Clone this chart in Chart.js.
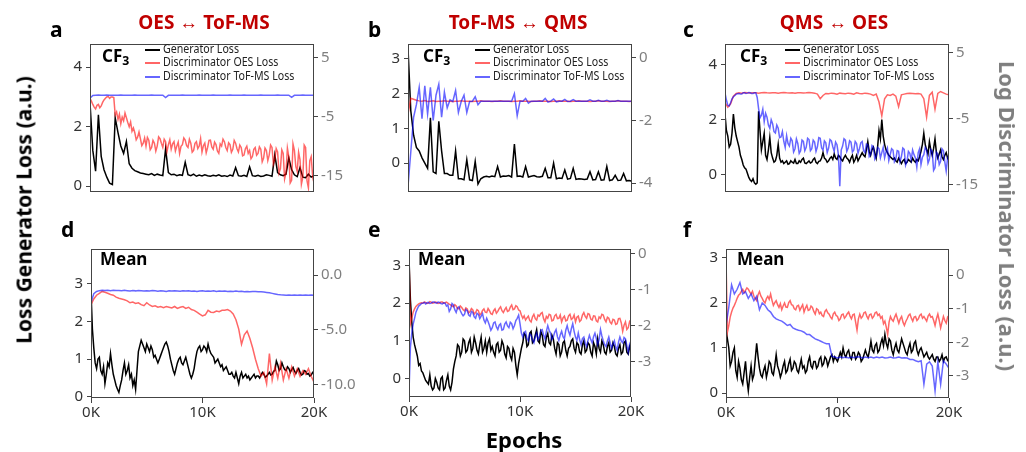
<!DOCTYPE html>
<html><head><meta charset="utf-8">
<script src="https://cdn.jsdelivr.net/npm/chart.js@4.4.1/dist/chart.umd.min.js"></script>
<style>
html,body{margin:0;padding:0;}
body{width:1026px;height:452px;background:#fff;position:relative;overflow:hidden;font-family:'Noto Sans',sans-serif;}
canvas{position:absolute;}
.t{position:absolute;white-space:nowrap;line-height:1;}
.sw{position:absolute;height:2px;width:15px;}
</style></head><body>
<script>
// ---------------- DATA ----------------
const epochs = [0,250,500,750,1000,1250,1500,1750,2000,2250,2500,2750,3000,3250,3500,3750,4000,4250,4500,4750,5000,5250,5500,5750,6000,6250,6500,6750,7000,7250,7500,7750,8000,8250,8500,8750,9000,9250,9500,9750,10000,10250,10500,10750,11000,11250,11500,11750,12000,12250,12500,12750,13000,13250,13500,13750,14000,14250,14500,14750,15000,15250,15500,15750,16000,16250,16500,16750,17000,17250,17500,17750,18000,18250,18500,18750,19000,19250,19500,19750,20000];
const epochsFine = [0,125,250,375,500,625,750,875,1000,1125,1250,1375,1500,1625,1750,1875,2000,2125,2250,2375,2500,2625,2750,2875,3000,3125,3250,3375,3500,3625,3750,3875,4000,4125,4250,4375,4500,4625,4750,4875,5000,5125,5250,5375,5500,5625,5750,5875,6000,6125,6250,6375,6500,6625,6750,6875,7000,7125,7250,7375,7500,7625,7750,7875,8000,8125,8250,8375,8500,8625,8750,8875,9000,9125,9250,9375,9500,9625,9750,9875,10000,10125,10250,10375,10500,10625,10750,10875,11000,11125,11250,11375,11500,11625,11750,11875,12000,12125,12250,12375,12500,12625,12750,12875,13000,13125,13250,13375,13500,13625,13750,13875,14000,14125,14250,14375,14500,14625,14750,14875,15000,15125,15250,15375,15500,15625,15750,15875,16000,16125,16250,16375,16500,16625,16750,16875,17000,17125,17250,17375,17500,17625,17750,17875,18000,18125,18250,18375,18500,18625,18750,18875,19000,19125,19250,19375,19500,19625,19750,19875,20000];

const titles = ['OES \u2194 ToF-MS','ToF-MS \u2194 QMS','QMS \u2194 OES'];
const panelLetters = ['a','b','c','d','e','f'];
const legendLabels = ['Generator Loss','Discriminator OES Loss','Discriminator ToF-MS Loss'];
const xTicks = [0,10000,20000];
const leftTicks = [[0,2,4],[0,1,2,3],[0,2,4],[0,1,2,3],[0,1,2,3],[0,1,2,3]];
const rightTicks = [[-15,-5,5],[-4,-2,0],[-15,-5,5],[-10,-5,0],[-3,-2,-1,0],[-3,-2,-1,0]];

// panel a
const aGen = [2.8,1.2,0.5,2.4,1.0,0.55,0.3,0.1,0.05,2.3,1.8,1.35,1.1,1.5,0.75,0.6,0.52,0.48,0.44,0.42,0.40,0.38,0.42,0.36,0.40,0.37,0.35,1.25,0.45,0.38,0.40,0.35,0.38,0.36,0.8,0.38,0.35,0.40,0.33,0.37,0.34,0.38,0.35,0.33,0.36,0.34,0.38,0.33,0.35,0.32,0.37,0.34,0.62,0.35,0.33,0.36,0.32,0.65,0.35,0.33,0.36,0.32,0.34,0.38,0.36,0.33,1.05,0.45,0.38,0.35,0.40,0.95,0.55,0.38,0.32,0.62,0.30,0.28,0.40,0.30,0.35];
const aOES = [-1.94,-2.4,-2.95,-3.4,-3.7,-3.1,-2.95,-3.5,-3.2,-2.6,-2.19,-1.9,-1.69,-1.6,-1.94,-1.7,-1.69,-1.8,-4.7,-4.2,
 -5.46,-4.6,-6.2,-5.1,-5.7,-4.4,-5.2,-6.0,-6.71,-5.9,-7.46,-6.9,-7.71,-8.9,-8.47,-7.6,-8.72,-9.9,-9.47,-8.6,
 -9.97,-8.5,-8.97,-10.6,-10.2,-9.0,-9.47,-10.8,-9.97,-8.4,-8.72,-9.5,-10.2,-8.8,-9.22,-10.9,-9.72,-8.9,-10.5,-9.6,
 -9.22,-10.8,-9.97,-9.3,-11.2,-10.0,-9.72,-8.6,-8.97,-9.9,-10.2,-8.8,-9.47,-11.0,-10.7,-9.5,-9.22,-10.4,-9.97,-8.7,
 -10.97,-9.9,-9.47,-11.1,-10.2,-9.0,-8.97,-10.1,-10.5,-9.3,-9.72,-10.8,-11.2,-9.6,-9.97,-8.8,-9.22,-10.2,-10.7,-9.4,
 -9.72,-11.0,-10.5,-9.0,-9.47,-10.4,-10.97,-9.8,-10.2,-11.6,-11.48,-10.4,-9.97,-11.2,-10.7,-12.1,-11.73,-10.5,-10.2,-11.5,
 -11.2,-10.1,-10.5,-12.6,-11.98,-10.3,-10.7,-12.4,-11.48,-9.8,-10.2,-13.0,-12.23,-10.4,-10.97,-14.5,-13.74,-10.6,-11.2,-15.5,
 -14.49,-10.3,-11.73,-16.2,-15.75,-9.6,-10.7,-13.4,-14.24,-11.0,-12.23,-16.4,-15.24,-9.8,-10.2,-15.8,-17.0,-12.4,-11.73,-15.0,
 -13.74];
const aToF = [-1.9,-1.45,-1.4,-1.38,-1.4,-1.42,-1.38,-1.4,-1.39,-1.41,-1.4,-1.38,-1.4,-1.42,-1.39,-1.4,-1.38,-1.41,-1.4,-1.39,-1.4,-1.42,-1.38,-1.4,-1.41,-1.39,-1.4,-1.8,-1.42,-1.4,-1.39,-1.41,-1.4,-1.38,-1.4,-1.42,-1.39,-1.4,-1.41,-1.38,-1.4,-1.39,-1.42,-1.4,-1.38,-1.41,-1.4,-1.39,-1.4,-1.42,-1.38,-1.4,-1.41,-1.39,-1.4,-1.38,-1.42,-1.4,-1.39,-1.41,-1.4,-1.38,-1.4,-1.42,-1.39,-1.4,-1.41,-1.38,-1.4,-1.39,-1.42,-1.4,-1.75,-1.41,-1.39,-1.4,-1.38,-1.42,-1.4,-1.39,-1.4];

// panel b
const bGen = [3.3,1.5,0.8,0.45,0.35,0.15,0.0,-0.15,1.3,-0.25,-0.3,1.2,0.35,-0.3,-0.3,-0.35,-0.35,0.35,-0.45,-0.45,-0.48,0.1,-0.48,-0.5,0.05,-0.6,-0.45,-0.4,-0.38,-0.4,-0.37,-0.39,-0.1,-0.4,-0.37,-0.38,-0.36,-0.4,0.55,-0.38,-0.37,-0.4,-0.1,-0.4,-0.38,-0.36,-0.39,-0.4,-0.38,-0.15,-0.42,-0.42,0.0,-0.45,-0.43,-0.44,-0.2,-0.46,-0.44,-0.15,-0.47,-0.45,-0.46,-0.47,-0.46,-0.25,-0.48,-0.47,-0.25,-0.49,-0.48,-0.1,-0.5,-0.48,-0.35,-0.5,-0.49,-0.3,-0.51,-0.5,-0.52];
const bOES = [-1.8,-1.3,-1.33,-1.36,-1.38,-1.39,-1.37,-1.4,-1.39,-1.38,-1.4,-1.39,-1.39,-1.38,-1.39,-1.39,-1.4,-1.39,-1.39,-1.38,-1.39,-1.39,-1.39,-1.4,-1.39,-1.39,-1.38,-1.39,-1.39,-1.39,-1.4,-1.39,-1.39,-1.38,-1.39,-1.39,-1.39,-1.4,-1.39,-1.39,-1.38,-1.39,-1.39,-1.39,-1.4,-1.39,-1.39,-1.38,-1.39,-1.39,-1.39,-1.4,-1.39,-1.39,-1.38,-1.39,-1.39,-1.39,-1.4,-1.39,-1.39,-1.38,-1.39,-1.39,-1.39,-1.4,-1.39,-1.39,-1.38,-1.39,-1.39,-1.39,-1.4,-1.39,-1.39,-1.38,-1.39,-1.39,-1.39,-1.4,-1.39];
const bToF = [-4.1,-3.0,-1.9,-1.5,-0.95,-1.95,-0.9,-1.8,-0.95,-2.0,-1.2,-0.85,-1.9,-1.1,-1.6,-1.35,-1.4,-1.05,-1.75,-1.4,-1.2,-1.75,-1.4,-1.39,-1.25,-1.5,-1.39,-1.39,-1.39,-1.39,-1.39,-1.39,-1.39,-1.39,-1.39,-1.39,-1.39,-1.39,-1.15,-1.85,-1.39,-1.39,-1.3,-1.45,-1.39,-1.39,-1.39,-1.39,-1.39,-1.3,-1.42,-1.39,-1.32,-1.41,-1.39,-1.39,-1.33,-1.4,-1.39,-1.34,-1.39,-1.39,-1.39,-1.39,-1.39,-1.35,-1.39,-1.39,-1.36,-1.39,-1.39,-1.36,-1.39,-1.39,-1.39,-1.37,-1.39,-1.39,-1.39,-1.39,-1.39];

// panel c
const cGen = [2.2,1.6,1.4,1.0,1.1,1.5,2.2,1.7,1.4,1.2,1.0,0.7,0.55,0.35,0.25,0.2,0.05,-0.1,-0.2,-0.25,
 -0.15,-0.3,-0.35,-0.3,2.3,1.6,0.9,1.2,1.5,0.7,0.55,0.9,1.35,0.8,0.6,0.45,0.5,0.7,1.1,0.6,
 0.45,0.5,0.4,0.45,0.5,0.38,0.4,0.5,0.45,0.42,0.55,0.4,0.4,0.5,0.45,0.55,0.6,0.42,0.4,0.45,
 0.5,0.42,0.45,0.55,0.6,0.45,0.4,0.48,0.5,0.6,0.8,0.6,0.55,0.45,0.5,0.6,0.65,0.55,0.75,0.6,
 0.55,0.7,0.65,0.55,0.5,0.62,0.7,0.6,0.55,0.45,0.6,0.7,0.45,0.55,0.7,0.5,0.6,0.7,0.8,0.7,
 0.65,0.9,1.2,0.85,0.7,0.9,1.0,0.8,0.6,1.0,1.6,1.3,2.0,1.4,1.1,0.9,0.8,0.7,0.65,0.6,
 0.55,0.6,0.5,0.45,0.6,0.5,0.4,0.5,0.55,0.4,0.45,0.55,0.5,0.45,0.6,0.5,0.45,0.55,0.5,0.65,
 0.85,1.1,1.5,1.1,0.9,0.75,1.2,0.9,0.7,0.95,1.3,0.8,0.6,0.75,0.9,0.65,0.55,0.7,0.8,0.6,
 0.7];
const cOES = [-2.6,-3.3,-2.8,-1.6,-1.2,-1.1,-1.15,-1.05,-1.1,-1.12,-1.08,-1.1,-1.15,-1.1,-1.05,-1.1,-1.12,-1.1,-1.08,-1.15,-1.1,-1.05,-1.1,-1.12,-1.1,-1.15,-1.08,-1.1,-1.12,-1.1,-1.05,-1.1,-1.15,-1.3,-2.0,-1.5,-1.2,-1.25,-1.15,-1.2,-1.3,-1.15,-1.2,-1.25,-1.15,-1.2,-1.3,-1.1,-1.2,-1.25,-1.15,-1.2,-1.3,-1.5,-1.3,-2.5,-4.6,-2.0,-1.4,-1.5,-1.3,-1.6,-3.2,-1.4,-1.3,-1.2,-1.15,-1.2,-1.25,-1.2,-1.3,-2.0,-4.8,-1.5,-1.0,-3.6,-1.2,-0.9,-1.1,-1.3,-1.4];
const cToF = [-1.1,-2.2,-3.0,-3.1,-2.6,-2.0,-1.7,-1.5,-1.3,-1.25,-1.2,-1.3,-1.3,-1.1,-1.1,-1.2,-1.15,-1.05,-1.1,-1.2,
 -1.2,-1.1,-1.1,-1.8,-3.5,-4.9,-4.5,-3.6,-5.5,-4.2,-4.8,-6.0,-6.5,-5.2,-5.8,-7.0,-7.2,-6.0,-6.5,-7.9,
 -7.8,-7.0,-8.5,-9.4,-7.6,-8.8,-9.2,-8.0,-8.4,-10.1,-9.6,-8.1,-8.8,-10.3,-9.9,-8.3,-8.5,-9.9,-9.4,-8.0,
 -8.2,-9.9,-9.6,-8.3,-8.6,-10.0,-9.3,-7.9,-8.0,-9.5,-9.8,-8.4,-8.7,-10.2,-9.5,-8.2,-8.4,-9.3,-10.0,-8.6,
 -9.0,-10.5,-15.3,-9.8,-9.2,-8.1,-8.3,-10.0,-9.5,-8.4,-8.6,-10.1,-9.8,-8.5,-8.8,-10.3,-9.6,-8.7,-8.5,-9.9,
 -10.2,-8.9,-9.0,-10.8,-10.5,-9.1,-9.3,-11.2,-10.8,-9.4,-9.6,-11.0,-10.2,-9.4,-11.0,-10.1,-9.5,-11.4,-10.5,-9.6,
 -9.8,-11.6,-11.2,-9.9,-10.0,-11.6,-10.8,-9.5,-9.7,-12.1,-11.5,-10.0,-10.3,-11.3,-9.8,-10.5,-11.0,-12.4,-10.2,-9.6,
 -12.0,-10.9,-10.5,-9.4,-9.8,-11.8,-11.2,-9.7,-10.0,-12.9,-12.5,-10.1,-10.4,-12.0,-11.5,-9.6,-9.9,-11.6,-13.0,-11.0,
 -10.5];

// panel d
const dGen = [2.8,1.8,1.3,0.9,0.75,1.0,1.05,0.7,0.6,0.8,0.35,0.6,0.9,0.8,1.15,0.85,0.6,0.45,0.3,0.2,
 0.12,0.3,0.45,0.7,0.9,0.6,0.7,0.85,0.5,0.6,0.3,0.45,0.2,0.7,1.2,1.35,1.5,1.4,1.3,1.2,
 1.4,1.3,1.2,1.35,1.25,1.05,1.1,1.0,0.9,1.0,1.1,1.2,1.3,1.4,1.45,1.35,1.2,1.0,0.85,0.7,
 0.6,0.75,0.9,1.0,1.05,0.9,0.85,0.95,1.05,0.9,0.75,0.6,0.5,0.6,0.75,1.0,1.2,1.3,1.35,1.2,
 1.25,1.35,1.3,1.2,1.4,1.25,1.15,1.1,1.05,0.9,0.95,1.0,0.9,0.8,0.85,0.7,0.75,0.8,0.7,0.6,
 0.6,0.65,0.55,0.5,0.65,0.5,0.35,0.55,0.65,0.5,0.55,0.6,0.5,0.55,0.45,0.5,0.55,0.6,0.5,0.55,
 0.55,0.5,0.58,0.65,0.6,0.52,0.55,0.6,0.65,0.58,0.6,0.68,0.7,0.95,0.85,0.7,0.75,0.9,0.8,0.72,
 0.7,0.8,0.75,0.65,0.72,0.78,0.68,0.62,0.7,0.75,0.65,0.58,0.6,0.7,0.68,0.6,0.62,0.55,0.58,0.65,
 0.62];
const dOES = [-2.70,-2.18,-1.84,-1.66,-1.49,-1.56,-1.66,-1.77,-1.84,-2.01,-2.11,-2.18,-2.25,-2.35,-2.53,-2.46,-2.59,-2.53,-2.70,-2.80,-2.53,-2.73,-2.87,-2.80,-2.94,-2.87,-2.97,-2.87,-2.94,-3.01,-2.87,-3.04,-2.94,-2.87,-3.04,-2.94,-3.15,-3.22,-3.39,-3.56,-3.73,-3.63,-3.22,-3.39,-3.42,-3.28,-3.35,-3.22,-3.22,-3.15,-3.28,-3.56,-4.08,-4.94,-6.32,-5.46,-5.11,-5.80,-6.67,-7.70,-8.56,-9.25,-8.91,-9.94,-7.18,-9.60,-8.39,-9.43,-8.05,-9.60,-8.56,-9.43,-8.39,-9.25,-8.56,-9.25,-8.74,-9.08,-8.56,-9.25,-9.8];
const dToF = [-2.5,-1.7,-1.5,-1.42,-1.39,-1.4,-1.38,-1.42,-1.39,-1.41,-1.4,-1.43,-1.39,-1.42,-1.45,-1.41,-1.44,-1.4,-1.43,-1.46,-1.42,-1.45,-1.41,-1.44,-1.47,-1.43,-1.45,-1.5,-1.44,-1.46,-1.42,-1.45,-1.48,-1.44,-1.46,-1.43,-1.47,-1.45,-1.5,-1.46,-1.44,-1.48,-1.45,-1.47,-1.44,-1.49,-1.46,-1.48,-1.45,-1.5,-1.47,-1.49,-1.46,-1.5,-1.48,-1.51,-1.49,-1.52,-1.5,-1.5,-1.52,-1.53,-1.55,-1.58,-1.62,-1.67,-1.72,-1.77,-1.8,-1.81,-1.83,-1.82,-1.84,-1.82,-1.83,-1.81,-1.84,-1.82,-1.83,-1.82,-1.83];

// panel e
const eGen = [3.2,2.1,1.5,1.1,0.9,0.75,0.6,0.35,0.4,0.2,0.15,0.05,-0.05,-0.1,-0.15,0.1,-0.2,-0.3,-0.25,0.0,
 -0.1,-0.25,-0.3,0.0,0.05,-0.3,-0.25,-0.05,0.1,-0.2,-0.3,-0.1,0.25,0.45,0.6,0.9,0.85,0.6,0.7,1.05,
 1.0,0.7,0.75,0.95,1.05,0.7,0.8,1.1,0.95,0.75,0.65,0.9,1.1,0.7,0.8,1.0,0.7,0.95,1.05,0.75,
 0.85,0.7,0.6,0.9,0.95,0.7,0.75,1.0,0.9,0.65,0.55,0.85,0.8,0.6,0.5,0.8,0.7,0.35,0.1,0.4,
 0.6,0.8,0.95,1.2,1.15,0.85,0.9,1.2,1.25,0.95,1.0,1.15,1.3,1.0,0.95,1.25,1.15,0.9,0.85,1.1,
 1.2,0.95,0.9,1.15,1.05,0.8,0.65,0.95,0.9,0.6,0.7,0.95,1.0,0.75,0.6,0.8,0.85,1.0,1.05,0.8,
 0.7,0.95,0.9,0.7,0.65,0.9,1.0,0.7,0.75,0.95,0.9,0.7,0.6,0.95,0.85,0.65,1.05,0.8,0.7,1.0,
 0.9,0.7,0.65,0.85,0.95,0.7,0.75,0.95,0.85,0.65,0.6,0.8,0.9,0.65,0.7,0.95,1.0,0.7,0.65,0.85,
 0.75];
const eOES = [-0.05,-1.95,-1.79,-1.62,-1.53,-1.46,-1.42,-1.39,-1.37,-1.36,-1.37,-1.34,-1.35,-1.38,-1.37,-1.33,-1.34,-1.37,-1.36,-1.34,
 -1.35,-1.38,-1.37,-1.34,-1.34,-1.37,-1.36,-1.34,-1.37,-1.40,-1.42,-1.45,-1.47,-1.41,-1.45,-1.52,-1.53,-1.45,-1.49,-1.55,
 -1.58,-1.50,-1.53,-1.64,-1.60,-1.52,-1.56,-1.67,-1.63,-1.55,-1.58,-1.70,-1.66,-1.57,-1.53,-1.62,-1.63,-1.52,-1.58,-1.66,
 -1.68,-1.58,-1.53,-1.65,-1.60,-1.52,-1.47,-1.58,-1.63,-1.55,-1.49,-1.60,-1.58,-1.48,-1.42,-1.55,-1.53,-1.44,-1.47,-1.56,
 -1.58,-1.70,-1.79,-1.72,-1.84,-1.78,-1.73,-1.85,-1.89,-1.75,-1.68,-1.80,-1.84,-1.70,-1.73,-1.66,-1.63,-1.80,-1.89,-1.74,
 -1.79,-1.68,-1.70,-1.86,-1.84,-1.72,-1.68,-1.80,-1.79,-1.70,-1.89,-1.78,-1.73,-1.86,-1.84,-1.72,-1.68,-1.82,-1.79,-1.70,
 -1.89,-1.76,-1.73,-1.88,-1.84,-1.70,-1.63,-1.74,-1.79,-1.66,-1.68,-1.81,-1.84,-1.72,-1.73,-1.86,-1.89,-1.75,-1.79,-1.68,
 -1.70,-1.82,-1.89,-1.76,-1.79,-1.90,-1.94,-1.82,-1.84,-1.96,-1.94,-1.80,-1.79,-1.92,-2.15,-1.98,-1.89,-2.10,-2.05,-1.88,
 -1.94];
const eToF = [-3.83,-2.6,-2.20,-1.95,-1.79,-1.62,-1.53,-1.45,-1.42,-1.38,-1.37,-1.35,-1.39,-1.36,-1.35,-1.38,-1.37,-1.34,-1.34,-1.36,
 -1.37,-1.34,-1.35,-1.38,-1.39,-1.36,-1.37,-1.45,-1.42,-1.60,-1.53,-1.38,-1.42,-1.55,-1.63,-1.50,-1.47,-1.58,-1.66,-1.72,
 -1.68,-1.55,-1.58,-1.70,-1.73,-1.60,-1.63,-1.75,-1.79,-1.65,-1.68,-1.80,-1.73,-1.66,-1.84,-1.92,-1.79,-1.88,-1.99,-2.12,
 -2.05,-1.92,-1.89,-2.03,-2.10,-1.98,-1.94,-2.12,-2.10,-1.95,-1.89,-2.00,-2.05,-1.90,-1.94,-2.08,-1.99,-1.85,-1.79,-1.70,
 -1.94,-2.20,-2.31,-2.18,-2.15,-2.35,-2.41,-2.22,-2.26,-2.40,-2.47,-2.30,-2.20,-2.38,-2.31,-2.12,-2.10,-2.25,-2.36,-2.15,
 -1.99,-2.12,-2.20,-2.38,-2.31,-2.18,-2.10,-2.30,-2.41,-2.25,-2.15,-2.30,-2.36,-2.12,-1.99,-2.15,-2.26,-2.08,-1.94,-2.15,
 -2.31,-2.40,-2.20,-2.38,-2.52,-2.35,-2.31,-2.48,-2.57,-2.40,-2.26,-2.38,-2.47,-2.30,-2.20,-2.35,-2.52,-2.38,-2.10,-2.28,
 -2.41,-2.52,-2.57,-2.42,-2.31,-2.48,-2.62,-2.50,-2.41,-2.58,-2.68,-2.45,-2.31,-2.42,-2.47,-2.32,-2.36,-2.55,-2.73,-2.50,
 -2.41];

// panel f
const fGen = [1.4,1.2,1.0,0.6,0.7,0.9,1.0,0.5,0.35,0.7,0.55,0.3,0.2,0.45,0.7,0.3,0.05,0.35,0.6,0.3,
 0.4,0.75,1.1,0.8,0.55,0.4,0.35,0.5,0.6,0.35,0.5,0.7,0.65,0.45,0.4,0.6,0.85,0.6,0.5,0.35,
 0.45,0.6,0.7,0.45,0.5,0.65,0.75,0.5,0.55,0.7,0.65,0.5,0.45,0.6,0.75,0.55,0.6,0.45,0.5,0.7,
 0.8,0.6,0.55,0.7,0.7,0.55,0.6,0.75,0.8,0.6,0.65,0.8,0.75,0.6,0.7,0.8,0.85,0.7,0.8,0.75,
 0.7,0.8,0.9,0.8,1.0,0.85,0.8,0.9,0.95,0.8,0.75,0.9,0.9,0.75,0.8,0.9,0.85,0.7,0.75,0.85,
 0.95,0.85,0.8,0.95,1.15,0.95,0.9,1.05,1.1,0.9,0.95,1.1,1.2,1.05,1.3,1.1,1.0,1.2,1.15,0.95,
 0.85,1.0,1.1,0.95,0.9,1.05,1.2,1.1,1.0,0.9,0.85,1.0,1.1,0.9,0.95,1.1,1.15,0.95,0.85,0.95,
 1.0,0.9,0.8,0.85,0.9,0.8,0.75,0.8,0.85,0.75,0.7,0.8,0.8,0.7,0.75,0.85,0.7,0.78,0.8,0.72,
 0.75];
const fOES = [0.52,-1.70,-1.50,-1.25,-1.10,-0.98,-0.90,-0.80,-0.69,-0.60,-0.56,-0.48,-0.42,-0.52,-0.45,-0.38,-0.42,-0.50,-0.56,-0.48,
 -0.63,-0.70,-0.76,-0.58,-0.49,-0.62,-0.69,-0.78,-0.83,-0.70,-0.63,-0.72,-0.56,-0.75,-0.90,-0.82,-0.76,-0.88,-0.96,-0.85,
 -1.03,-0.92,-0.83,-0.95,-0.96,-0.82,-0.76,-0.88,-0.90,-1.00,-1.03,-0.92,-0.90,-1.05,-0.96,-0.88,-1.10,-0.98,-0.90,-1.05,
 -1.03,-0.92,-0.96,-1.08,-1.16,-1.00,-1.03,-1.15,-1.10,-1.20,-1.23,-1.08,-1.03,-1.12,-1.16,-1.25,-1.30,-1.15,-1.10,-1.20,
 -1.23,-1.35,-1.30,-1.18,-1.16,-1.28,-1.23,-1.15,-1.10,-1.22,-1.30,-1.18,-1.16,-1.40,-1.64,-1.30,-1.16,-1.28,-1.23,-1.12,
 -1.10,-1.22,-1.30,-1.18,-1.16,-1.28,-1.23,-1.12,-1.10,-1.20,-1.16,-1.28,-1.23,-1.45,-1.37,-1.55,-1.77,-1.40,-1.23,-1.32,
 -1.37,-1.25,-1.16,-1.30,-1.43,-1.30,-1.23,-1.40,-1.50,-1.38,-1.30,-1.20,-1.16,-1.28,-1.37,-1.25,-1.23,-1.35,-1.30,-1.20,
 -1.16,-1.28,-1.23,-1.30,-1.37,-1.22,-1.16,-1.25,-1.23,-1.35,-1.50,-1.30,-1.16,-1.35,-1.57,-1.40,-1.23,-1.35,-1.43,-1.25,
 -1.30];
const fToF = [-1.50,-0.96,-0.29,-0.56,-0.42,-0.22,-0.56,-0.49,-0.69,-0.56,-0.76,-0.63,-1.03,-0.83,-0.90,-1.03,-1.10,-1.23,-1.30,-1.34,-1.37,-1.43,-1.50,-1.47,-1.57,-1.61,-1.64,-1.66,-1.70,-1.77,-1.77,-1.84,-1.90,-1.93,-1.97,-2.01,-2.04,-2.04,-2.42,-2.44,-2.47,-2.44,-2.46,-2.44,-2.47,-2.44,-2.46,-2.43,-2.44,-2.47,-2.44,-2.46,-2.44,-2.47,-2.44,-2.46,-2.44,-2.47,-2.46,-2.44,-2.47,-2.46,-2.44,-2.47,-2.46,-2.47,-2.51,-2.51,-2.55,-2.58,-2.55,-3.25,-2.65,-2.58,-2.71,-3.45,-2.58,-3.25,-2.55,-2.65,-2.78];

const genSeries = [aGen,bGen,cGen,dGen,eGen,fGen];
const oesSeries = [aOES,bOES,cOES,dOES,eOES,fOES];
const tofSeries = [aToF,bToF,cToF,dToF,eToF,fToF];

// ---------------- LAYOUT ----------------
const panels = [
  {rect:[90,39,314,192], l:[-0.2,4.78], r:[-17.7,7.23], xt:false, rdec:0},
  {rect:[408,39,632,192], l:[-0.83,3.42], r:[-4.28,0.43], xt:false, rdec:0},
  {rect:[725,39,949,192], l:[-0.63,4.74], r:[-16.18,6.32], xt:false, rdec:0},
  {rect:[91,244,314,398], l:[-0.03,3.92], r:[-11.24,2.39], xt:true, rdec:1},
  {rect:[409,244,631,397], l:[-0.49,3.44], r:[-3.97,0.13], xt:true, rdec:0},
  {rect:[726,244,949,398], l:[-0.11,3.19], r:[-3.66,0.78], xt:true, rdec:0}
];
const AX = '#444444';
const FONT = "'Noto Sans', sans-serif";
const SIDE = 60, PADT = 8, XH = 32;

const framePlugin = {
  id:'frame',
  afterDatasetsDraw(chart){
    const {ctx, chartArea:a} = chart;
    ctx.save(); ctx.strokeStyle = AX; ctx.lineWidth = 1;
    ctx.strokeRect(a.left+0.5, a.top+0.5, a.right-a.left-1, a.bottom-a.top-1);
    ctx.restore();
  }
};

function xy(arr){ const xs = arr.length === epochsFine.length ? epochsFine : epochs; return arr.map((v,i)=>({x:xs[i], y:v})); }
function fixTicks(vals){ return (axis)=>{ axis.ticks = vals.map(v=>({value:v})); }; }

panels.forEach((p,k)=>{
  const [l,t,r,b] = p.rect;
  const cv = document.createElement('canvas');
  const W = (r-l)+2*SIDE, H = (b-t)+PADT+XH;
  cv.width = W; cv.height = H;
  cv.style.left = (l-SIDE)+'px'; cv.style.top = (t-PADT)+'px';
  cv.style.width = W+'px'; cv.style.height = H+'px';
  document.body.appendChild(cv);
  new Chart(cv, {
    type:'line',
    data:{datasets:[
      {data:xy(genSeries[k]), borderColor:'#000000', yAxisID:'y', order:3},
      {data:xy(oesSeries[k]), borderColor:'rgba(255,0,0,0.6)', yAxisID:'y1', order:2},
      {data:xy(tofSeries[k]), borderColor:'rgba(0,0,255,0.6)', yAxisID:'y1', order:1}
    ]},
    options:{
      responsive:false, animation:false, devicePixelRatio:1,
      layout:{padding:{top:PADT,left:0,right:0,bottom:0}, autoPadding:false},
      plugins:{legend:{display:false}, tooltip:{enabled:false}},
      elements:{point:{radius:0}, line:{borderWidth:1.5, tension:0}},
      scales:{
        x:{type:'linear', min:0, max:20000,
           afterBuildTicks:fixTicks(xTicks),
           afterFit:(s)=>{s.height=XH;},
           ticks:{display:p.xt, autoSkip:false, maxRotation:0, padding:1, color:'#333', font:{family:FONT,size:15}, callback:(v)=>(v/1000)+'K'},
           grid:{display:p.xt, drawOnChartArea:false, drawTicks:true, tickLength:5, color:AX},
           border:{display:false}},
        y:{position:'left', min:p.l[0], max:p.l[1],
           afterBuildTicks:fixTicks(leftTicks[k]),
           afterFit:(s)=>{s.width=SIDE;},
           ticks:{padding:4, color:'#333', font:{family:FONT,size:15}, callback:(v)=>String(v)},
           grid:{drawOnChartArea:false, drawTicks:true, tickLength:4, color:AX},
           border:{display:false}},
        y1:{position:'right', min:p.r[0], max:p.r[1],
           afterBuildTicks:fixTicks(rightTicks[k]),
           afterFit:(s)=>{s.width=SIDE;},
           ticks:{padding:3, color:'#7f7f7f', font:{family:FONT,size:15}, callback:(v)=>p.rdec? v.toFixed(p.rdec): String(v)},
           grid:{drawOnChartArea:false, drawTicks:true, tickLength:4, color:AX},
           border:{display:false}}
      }
    },
    plugins:[framePlugin]
  });
});

// ---------------- TEXT ----------------
function addText(html, x, y, css){
  const d = document.createElement('div');
  d.className = 't'; d.innerHTML = html;
  d.style.cssText += 'left:'+x+'px;top:'+y+'px;'+css;
  document.body.appendChild(d); return d;
}
const titleX = [204,518,834];
titles.forEach((s,i)=> addText(s, titleX[i], 13, 'font-size:19px;font-weight:700;color:#c00000;transform:translateX(-50%);'));
const letterPos = [[50,19],[368,19],[683,19],[61,219],[368,219],[683,219]];
panelLetters.forEach((s,i)=> addText(s, letterPos[i][0], letterPos[i][1], 'font-size:21px;font-weight:700;color:#000;'));
const innerPos = [[102,47],[423,47],[740,47],[100,250],[418,250],[737,250]];
innerPos.forEach((q,i)=> addText(i<3 ? 'CF<span style="font-size:0.72em;position:relative;top:0.28em;">3</span>' : 'Mean', q[0], q[1], 'font-size:17px;font-weight:700;color:#000;'));
const legX = [145,475,785];
const legY = [50,63.3,76.7];
const legCol = ['#000000','#ff6666','#6666ff'];
legX.forEach(x=>{
  legendLabels.forEach((s,j)=>{
    const sw = document.createElement('div'); sw.className='sw';
    sw.style.left = x+'px'; sw.style.top = (legY[j]-1)+'px'; sw.style.background = legCol[j];
    document.body.appendChild(sw);
    addText(s, x+18, legY[j]-7, 'font-size:12px;color:#222;transform:scaleX(0.885);transform-origin:0 50%;');
  });
});
addText('Loss Generator Loss (a.u.)', 24, 210, 'font-size:21px;font-weight:700;color:#000;transform:translate(-50%,-50%) rotate(-90deg);');
addText('Log Discriminator Loss (a.u.)', 1008, 216, 'font-size:22px;font-weight:700;color:#7f7f7f;transform:translate(-50%,-50%) rotate(90deg);');
addText('Epochs', 524, 428, 'font-size:22px;font-weight:700;color:#000;transform:translateX(-50%);');
</script>
</body></html>
